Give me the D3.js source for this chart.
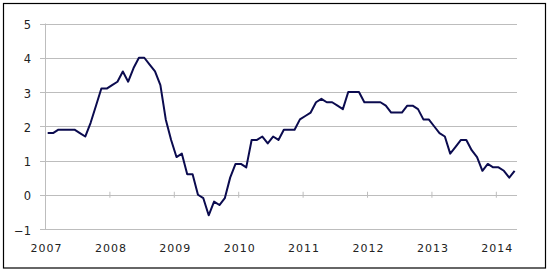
<!DOCTYPE html>
<html>
<head>
<meta charset="utf-8">
<script src="https://cdn.jsdelivr.net/npm/d3@7"></script>
<style>
  html, body { margin: 0; padding: 0; background: #fff; }
  svg text { font-family: "DejaVu Sans", Verdana, sans-serif; font-size: 11px; fill: #222; }
</style>
</head>
<body>
<svg id="chart" width="550" height="271"></svg>
<script>
// Monthly values, Jan 2007 – Apr 2014
const startYear = 2007;
const values2007 = [1.8, 1.8, 1.9, 1.9, 1.9, 1.9, 1.8, 1.7, 2.1, 2.6, 3.1, 3.1];
const values2008 = [3.2, 3.3, 3.6, 3.3, 3.7, 4.0, 4.0, 3.8, 3.6, 3.2, 2.2, 1.6];
const values2009 = [1.1, 1.2, 0.6, 0.6, 0.0, -0.1, -0.6, -0.2, -0.3, -0.1, 0.5, 0.9];
const values2010 = [0.9, 0.8, 1.6, 1.6, 1.7, 1.5, 1.7, 1.6, 1.9, 1.9, 1.9, 2.2];
const values2011 = [2.3, 2.4, 2.7, 2.8, 2.7, 2.7, 2.6, 2.5, 3.0, 3.0, 3.0, 2.7];
const values2012 = [2.7, 2.7, 2.7, 2.6, 2.4, 2.4, 2.4, 2.6, 2.6, 2.5, 2.2, 2.2];
const values2013 = [2.0, 1.8, 1.7, 1.2, 1.4, 1.6, 1.6, 1.3, 1.1, 0.7, 0.9, 0.8];
const values2014 = [0.8, 0.7, 0.5, 0.7];
const yearLabels = ["2007", "2008", "2009", "2010", "2011", "2012", "2013", "2014"];
const yTicks = [-1, 0, 1, 2, 3, 4, 5];

const values = [].concat(values2007, values2008, values2009, values2010,
                         values2011, values2012, values2013, values2014);
const data = values.map((v, i) => ({ m: i, v: v }));

const svg = d3.select("#chart");

// outer frame
svg.append("rect")
  .attr("x", 3.5).attr("y", 3.5)
  .attr("width", 542).attr("height", 264.5)
  .attr("fill", "none").attr("stroke", "#000").attr("stroke-width", 1.2);

const x = d3.scaleLinear().domain([0, 88]).range([45, 517.3]);
const y = d3.scaleLinear().domain([-1, 5]).range([229, 23.5]);

const grid = "#bdbdbd";

// horizontal gridlines with left ticks (via axis)
const yAxis = d3.axisLeft(y).tickValues(yTicks)
  .tickSize(-(517.3 - 40)).tickPadding(9)
  .tickFormat(d => d < 0 ? "\u2212" + Math.abs(d) : String(d));
const gy = svg.append("g").attr("transform", "translate(40,0)").call(yAxis);
gy.select(".domain").remove();
gy.selectAll(".tick line").attr("stroke", grid).attr("shape-rendering", "crispEdges");
gy.selectAll(".tick text").attr("dy", "0.45em").style("font-size", "11.5px");

// vertical axis line
svg.append("line")
  .attr("x1", 45.5).attr("x2", 45.5)
  .attr("y1", y(5)).attr("y2", y(-1))
  .attr("stroke", grid);

const yearTicks = yearLabels.map((d, i) => i * 12);

// tick marks at the zero line
const xTickAxis = d3.axisBottom(x).tickValues(yearTicks.slice(1))
  .tickSizeInner(3).tickSizeOuter(0).tickFormat("");
const gxt = svg.append("g").attr("transform", `translate(0,${y(0) - 3})`).call(xTickAxis);
gxt.select(".domain").remove();
gxt.selectAll(".tick line").attr("stroke", grid).attr("y2", 6);

// year labels at bottom
const xAxis = d3.axisBottom(x).tickValues(yearTicks)
  .tickSize(0).tickPadding(0)
  .tickFormat((d, i) => yearLabels[i]);
const gx = svg.append("g").attr("transform", "translate(1,244)").call(xAxis);
gx.select(".domain").remove();
gx.selectAll(".tick text").attr("dy", "0.71em").style("letter-spacing", "1px");

// data line
const line = d3.line()
  .x(d => x(d.m + 0.5))
  .y(d => y(d.v));
svg.append("path")
  .datum(data)
  .attr("d", line)
  .attr("fill", "none")
  .attr("stroke", "#0b0b4f")
  .attr("stroke-width", 2)
  .attr("stroke-linejoin", "round");
</script>
</body>
</html>
